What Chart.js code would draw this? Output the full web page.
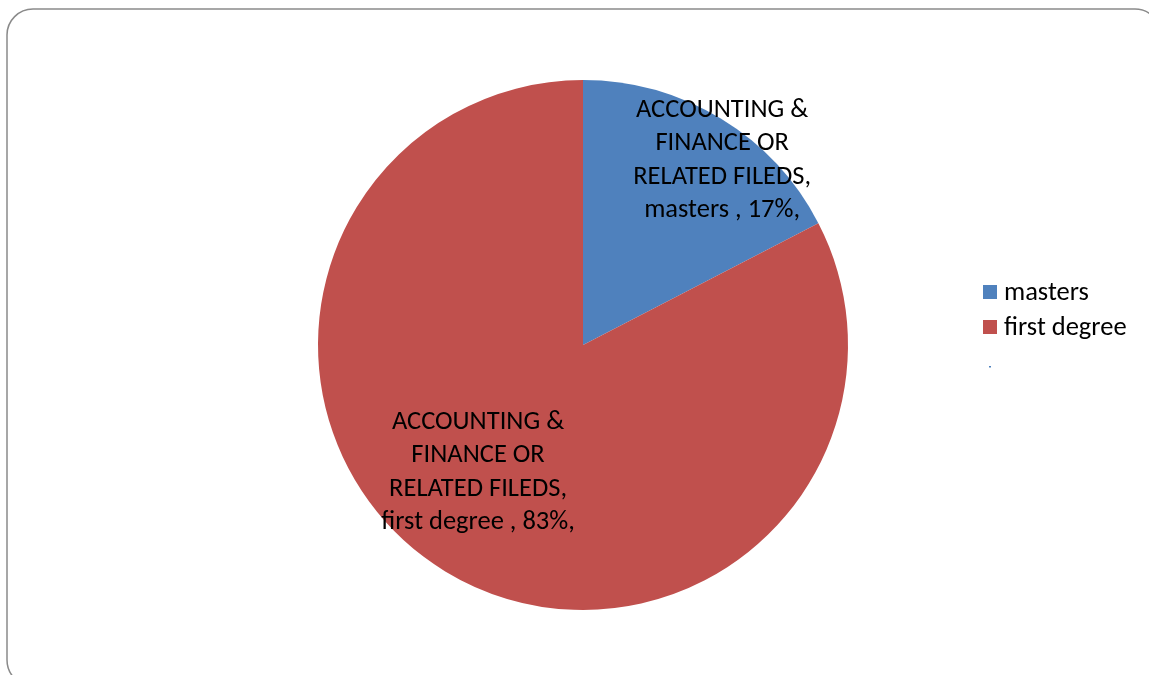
<!DOCTYPE html>
<html><head><meta charset="utf-8">
<script src="https://cdn.jsdelivr.net/npm/chart.js@4/dist/chart.umd.min.js"></script>
<style>html,body{margin:0;padding:0;background:#fff}#wrap{width:1149px;height:675px;position:relative}</style>
</head><body><div id="wrap"><canvas id="c" width="1149" height="675"></canvas></div>
<script>
const categories = ["masters", "first degree"];
const fieldName = "ACCOUNTING & FINANCE OR RELATED FILEDS";
const values = [17.4, 82.6];
const percentLabels = ["17%", "83%"];
const colors = ["#4F81BD", "#C0504D"];

const FONT = "Carlito, Calibri, Lato, sans-serif";
const labelOffsets = [[0.525, -0.697], [-0.396, 0.481]];

const framePlugin = {
  id: 'frame',
  beforeDraw(chart) {
    const ctx = chart.ctx;
    ctx.save();
    ctx.fillStyle = '#fff';
    ctx.fillRect(0, 0, chart.width, chart.height);
    ctx.strokeStyle = '#8a8a8a';
    ctx.lineWidth = 1.5;
    const x = 7, y = 9, w = 1154, h = 677, r = 26;
    ctx.beginPath();
    ctx.moveTo(x + r, y);
    ctx.arcTo(x + w, y, x + w, y + h, r);
    ctx.arcTo(x + w, y + h, x, y + h, r);
    ctx.arcTo(x, y + h, x, y, r);
    ctx.arcTo(x, y, x + w, y, r);
    ctx.closePath();
    ctx.stroke();
    ctx.restore();
  }
};

const labelPlugin = {
  id: 'sliceLabels',
  afterDatasetsDraw(chart) {
    const ctx = chart.ctx;
    const meta = chart.getDatasetMeta(0);
    ctx.save();
    ctx.fillStyle = '#000';
    ctx.font = '26.5px ' + FONT;
    ctx.textAlign = 'center';
    ctx.textBaseline = 'middle';
    meta.data.forEach((arc, i) => {
      const R = arc.outerRadius;
      const cx = arc.x + labelOffsets[i][0] * R;
      const cy = arc.y + labelOffsets[i][1] * R;
      const lines = ["ACCOUNTING &", "FINANCE OR", "RELATED FILEDS,", categories[i] + " , " + percentLabels[i] + ","];
      const lh = 33.5;
      lines.forEach((t, k) => {
        ctx.fillText(t, cx, cy + (k - 1.5) * lh);
      });
    });
    ctx.restore();
  }
};

const legendPlugin = {
  id: 'customLegend',
  afterDraw(chart) {
    const ctx = chart.ctx;
    ctx.save();
    ctx.font = '26.5px ' + FONT;
    ctx.textBaseline = 'middle';
    ctx.textAlign = 'left';
    categories.forEach((c, i) => {
      const y = 293 + i * 35;
      ctx.fillStyle = colors[i];
      ctx.fillRect(983, y - 8, 14, 14);
      ctx.fillStyle = '#000';
      ctx.fillText(c, 1004, y);
    });
    ctx.fillStyle = '#4F81BD';
    ctx.fillRect(989, 366, 2, 1.5);
    ctx.restore();
  }
};

new Chart(document.getElementById('c'), {
  type: 'pie',
  data: {
    labels: categories,
    datasets: [{ data: values, backgroundColor: colors, borderWidth: 0 }]
  },
  options: {
    responsive: false,
    animation: false,
    layout: { padding: { top: 80, bottom: 65, left: 318, right: 301 } },
    plugins: { legend: { display: false }, tooltip: { enabled: false } }
  },
  plugins: [framePlugin, labelPlugin, legendPlugin]
});
</script></body></html>
